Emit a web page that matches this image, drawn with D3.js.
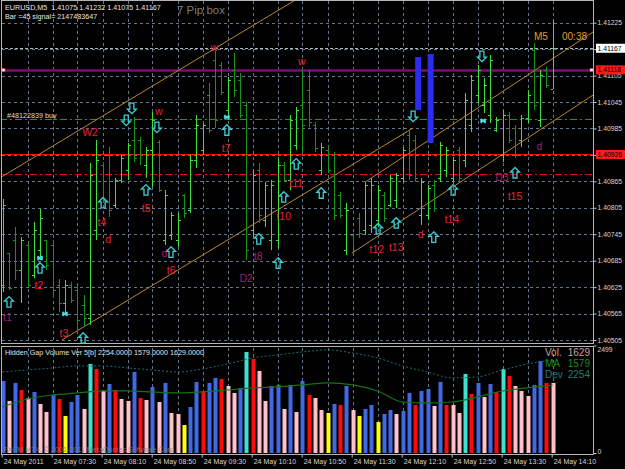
<!DOCTYPE html>
<html>
<head>
<meta charset="utf-8">
<script src="https://d3js.org/d3.v7.min.js"></script>
<style>
    body { margin: 0; background: #000; }
    svg { display: block; font-family: "Liberation Sans", Arial, sans-serif; }
</style>
</head>
<body>
<div id="chart"></div>
<script>

// EURUSD M5, 24 May 2011 06:50 - 14:10, one entry per bar
const openP = [1.40630,1.40702,1.40732,1.40664,1.40720,1.40652,1.40709,1.40732,1.40720,1.40630,
    1.40589,1.40630,1.40618,1.40584,1.40555,1.40754,1.40902,1.40925,1.40811,1.40868,
    1.40891,1.40959,1.40959,1.40902,1.40936,1.40954,1.40732,1.40743,1.40732,1.40834,
    1.40800,1.40913,1.40936,1.41061,1.41140,1.41129,1.41027,1.41118,1.41095,1.41038,
    1.40754,1.40891,1.40777,1.40732,1.40732,1.40902,1.40868,1.40947,1.41038,1.41072,
    1.40993,1.40891,1.40936,1.40925,1.40834,1.40709,1.40743,1.40782,1.40754,1.40766,
    1.40777,1.40834,1.40811,1.40822,1.40872,1.40970,1.40959,1.40788,1.40788,1.40857,
    1.40872,1.40891,1.40872,1.40936,1.40913,1.40993,1.41061,1.41038,1.41015,1.40981,
    1.40925,1.41015,1.40986,1.40959,1.41009,1.41163,1.41004,1.41118,1.41075];
const highP = [1.40825,1.40702,1.40761,1.40739,1.40725,1.40773,1.40802,1.40732,1.40732,1.40643,
    1.40641,1.40636,1.40630,1.40607,1.40906,1.40959,1.40909,1.40943,1.40872,1.40925,
    1.40952,1.41011,1.40966,1.40943,1.41022,1.40959,1.40845,1.40795,1.40793,1.40836,
    1.40925,1.41015,1.40997,1.41088,1.41168,1.41136,1.41102,1.41156,1.41111,1.41045,
    1.40891,1.40906,1.40863,1.40868,1.40920,1.40909,1.41015,1.41034,1.41118,1.41118,
    1.41000,1.40952,1.40943,1.40931,1.40841,1.40816,1.40748,1.40793,1.40863,1.40872,
    1.40857,1.40841,1.40879,1.40884,1.40943,1.40981,1.40970,1.40872,1.40857,1.40868,
    1.40954,1.40943,1.40920,1.40943,1.41065,1.41106,1.41129,1.41099,1.41152,1.41011,
    1.41027,1.41022,1.40993,1.41015,1.41072,1.41179,1.41118,1.41124,1.41232];
const lowP = [1.40614,1.40618,1.40641,1.40589,1.40625,1.40645,1.40686,1.40664,1.40600,1.40568,
    1.40566,1.40589,1.40521,1.40534,1.40539,1.40732,1.40816,1.40784,1.40804,1.40861,
    1.40868,1.40909,1.40902,1.40872,1.40852,1.40841,1.40720,1.40732,1.40716,1.40782,
    1.40793,1.40895,1.40925,1.40975,1.40986,1.41061,1.41015,1.41056,1.41009,1.40686,
    1.40739,1.40770,1.40761,1.40709,1.40714,1.40863,1.40845,1.40936,1.40929,1.40988,
    1.40931,1.40879,1.40884,1.40777,1.40782,1.40698,1.40702,1.40736,1.40743,1.40748,
    1.40761,1.40773,1.40807,1.40804,1.40863,1.40868,1.40863,1.40766,1.40777,1.40795,
    1.40863,1.40875,1.40863,1.40861,1.40897,1.40977,1.41043,1.41020,1.40997,1.40977,
    1.40909,1.40952,1.40918,1.40943,1.40997,1.41027,1.40988,1.41077,1.41075];
const closeP = [1.40811,1.40623,1.40664,1.40732,1.40630,1.40754,1.40782,1.40675,1.40618,1.40589,
    1.40630,1.40595,1.40550,1.40555,1.40879,1.40913,1.40822,1.40800,1.40868,1.40918,
    1.40947,1.40918,1.40925,1.40936,1.41004,1.40845,1.40834,1.40788,1.40777,1.40793,
    1.40913,1.40993,1.40993,1.40981,1.41004,1.41068,1.41095,1.41072,1.41015,1.40709,
    1.40879,1.40788,1.40857,1.40857,1.40902,1.40868,1.41004,1.41027,1.40993,1.41000,
    1.40941,1.40943,1.40891,1.40788,1.40788,1.40800,1.40709,1.40748,1.40857,1.40857,
    1.40845,1.40782,1.40872,1.40879,1.40936,1.40879,1.40872,1.40863,1.40850,1.40804,
    1.40947,1.40936,1.40913,1.40872,1.41049,1.41095,1.41118,1.41084,1.41140,1.41004,
    1.41015,1.40959,1.40925,1.41009,1.41061,1.41038,1.41106,1.41084,1.41167];

// Hidden Gap Volume: volume and bar class per bar
const volume = [1675,1210,1628,1465,1279,1419,1140,954,1349,1256,
    861,1186,1349,1023,2070,1954,1442,1605,1465,1256,
    1210,1884,1279,1233,1535,1186,1628,930,907,651,
    1070,1652,1442,1628,1745,1721,1558,1396,1512,2349,
    2186,1907,1210,1558,1582,1023,1582,954,1675,1349,
    1279,1000,930,1140,1117,1558,1000,861,1023,1117,
    721,907,1000,907,977,1396,1117,1442,1489,1093,
    1652,1117,1117,930,1838,1372,1628,1303,1605,1419,
    1954,1791,1558,1442,1326,1582,2140,1628,1629];
const volClass = ["B","P","B","R","P","B","P","P","B","R",
    "Y","B","B","P","T","R","P","B","R","P",
    "P","B","R","P","B","P","B","P","P","Y",
    "B","B","R","B","B","R","P","P","B","T",
    "R","P","P","B","B","P","B","P","B","R",
    "P","P","Y","B","R","B","P","Y","B","B",
    "Y","B","B","P","B","B","R","B","B","P",
    "B","R","P","P","T","R","B","P","B","R",
    "T","R","P","P","P","B","B","R","P"];
// MA and deviation lines, read every 4th bar
const lineBars = [0,4,8,12,16,20,24,28,32,36,40,44,48,52,56,60,64,68,72,76,80,84,88];
const maVals = [1070,1256,1349,1396,1442,1442,1419,1396,1419,1465,1512,1535,1582,1628,1582,1442,1186,1163,1186,1303,1442,1512,1579];
const devVals = [1884,1931,1977,2024,2024,1977,1931,1884,1954,2070,2210,2280,2349,2396,2326,2210,2024,1884,1745,1768,1931,2070,2163];

// axes
const priceTicks = [1.41225,1.41165,1.41105,1.41045,1.40985,1.40925,1.40865,1.40805,1.40745,1.40685,1.40625,1.40565,1.40505];
const timeTickBars = [0,8,16,24,32,40,48,56,64,72,80,88];
const timeTickLabels = ["24 May 2011","24 May 07:30","24 May 08:10","24 May 08:50","24 May 09:30","24 May 10:10",
    "24 May 10:50","24 May 11:30","24 May 12:10","24 May 12:50","24 May 13:30","24 May 14:10"];

// horizontal levels
const levelPrice = [1.41167, 1.41118, 1.41006, 1.40926, 1.40881];
const levelKind = ["bid", "hline", "order", "line", "stop"];

// trend channel lines [bar, price]
const chanFrom = [[-0.4,1.40873],[9.52,1.40505],[58.0,1.40863],[55.9,1.40702]];
const chanTo = [[46.8,1.41276],[65.68,1.40986],[94.5,1.41204],[94.5,1.41061]];

// blue boxes
const boxBar = [66.5, 68.5];
const boxTop = [1.41147, 1.41154];
const boxBottom = [1.41027, 1.40952];

// signal arrows and crosses
const upBar = [1.04,6.0,12.9,16.1,22.96,26.96,35.9,41.0,44.1,45.0,47.0,51.0,60.1,63.0,69.0,72.1,82.0];
const upPrice = [1.40591,1.40668,1.40509,1.40816,1.40845,1.40704,1.40981,1.40734,1.40679,1.40829,1.40904,1.40838,1.40757,1.40770,1.40738,1.40845,1.40884];
const downBar = [19.8,20.7,24.7,65.7,76.7];
const downPrice = [1.41004,1.41031,1.40988,1.41013,1.41149];
const crossBar = [6.0,10.0,35.9,76.9];
const crossPrice = [1.40691,1.40564,1.41011,1.41002];

// wave labels
const labelText = ["t1","t2","t3","t4","d","t5","d","t6","W2","w","w","t7","t8","D2",
    "w","t11","t10","t12","t13","d","t14","D3","t15","d"];
const labelBar = [0.8,5.84,9.84,15.9,16.9,23.0,25.9,27.0,14.0,25.0,33.9,35.8,40.9,39.0,
    47.9,47.0,45.0,59.9,63.0,66.9,71.9,79.9,82.0,85.9];
const labelPrice = [1.40557,1.40630,1.40521,1.40773,1.40734,1.40804,1.40702,1.40664,1.40977,1.41025,1.41170,1.40941,1.40695,1.40645,
    1.41138,1.40861,1.40786,1.40711,1.40716,1.40745,1.40779,1.40875,1.40832,1.40945];
const labelGroup = [2,1,1,1,1,1,2,1,1,1,1,1,2,2,
    1,1,1,1,1,1,1,2,1,2];


class MtChart {
    constructor(parentElement) {
        this.parentElement = parentElement;
        this.initVis();
    }

    initVis() {
        let vis = this;
        vis.width = 625;
        vis.height = 469;
        vis.axisX = 593.5;

        vis.svg = d3.select("#" + vis.parentElement).append("svg")
            .attr("width", vis.width)
            .attr("height", vis.height)
            .style("background", "#000");

        // scales
        vis.x = d3.scaleLinear().domain([0, 88]).range([2.5, 552.5]);
        vis.y = d3.scaleLinear().domain([1.40505, 1.41225]).range([340, 22.7]);
        vis.yv = d3.scaleLinear().domain([0, 2499]).range([453, 345.5]);

        vis.svg.append("clipPath").attr("id", "mainClip")
            .append("rect").attr("x", 2).attr("y", 1).attr("width", 591).attr("height", 342);
        vis.svg.append("clipPath").attr("id", "volClip")
            .append("rect").attr("x", 2).attr("y", 347).attr("width", 591).attr("height", 107);

        // grid
        let grid = vis.svg.append("g").attr("class", "grid")
            .attr("stroke", "#66768a").attr("stroke-dasharray", "3,3")
            .attr("shape-rendering", "crispEdges");
        let vBars = d3.range(4, 92, 4);
        grid.selectAll(".vg1").data(vBars).enter().append("line")
            .attr("x1", d => Math.round(vis.x(d)) + 0.5).attr("x2", d => Math.round(vis.x(d)) + 0.5)
            .attr("y1", 1).attr("y2", 343);
        grid.selectAll(".vg2").data(vBars).enter().append("line")
            .attr("x1", d => Math.round(vis.x(d)) + 0.5).attr("x2", d => Math.round(vis.x(d)) + 0.5)
            .attr("y1", 348).attr("y2", 454);
        grid.selectAll(".hg").data(priceTicks).enter().append("line")
            .attr("x1", 2).attr("x2", vis.axisX)
            .attr("y1", d => Math.round(vis.y(d)) + 0.5).attr("y2", d => Math.round(vis.y(d)) + 0.5);

        vis.main = vis.svg.append("g").attr("clip-path", "url(#mainClip)");
        vis.drawPrice();
        vis.drawVolume();
        vis.drawFrame();
    }

    drawPrice() {
        let vis = this;
        let g = vis.main;

        // horizontal levels
        let levelStyle = {
            bid: {stroke: "#b4b4b4", dash: "3,2", w: 1},
            hline: {stroke: "#7c0c78", dash: null, w: 2.4},
            order: {stroke: "#10a010", dash: "7,3,2,3", w: 1},
            line: {stroke: "#ff1010", dash: null, w: 1},
            stop: {stroke: "#e01010", dash: "7,3,2,3", w: 1}
        };
        levelPrice.forEach((p, i) => {
            let s = levelStyle[levelKind[i]];
            g.append("line")
                .attr("x1", 0).attr("x2", vis.axisX)
                .attr("y1", Math.round(vis.y(p)) + 0.5).attr("y2", Math.round(vis.y(p)) + 0.5)
                .attr("stroke", s.stroke).attr("stroke-width", s.w)
                .attr("stroke-dasharray", s.dash);
        });
        let hy = Math.round(vis.y(levelPrice[1]));
        [2, 590].forEach(px => {
            vis.svg.append("rect").attr("x", px).attr("y", hy - 1.5).attr("width", 3).attr("height", 3)
                .attr("fill", "#fff").attr("stroke", "#e03030").attr("stroke-width", 0.6);
        });

        // channel lines
        g.selectAll(".chan").data(chanFrom).enter().append("line")
            .attr("x1", d => vis.x(d[0])).attr("y1", d => vis.y(d[1]))
            .attr("x2", (d, i) => vis.x(chanTo[i][0])).attr("y2", (d, i) => vis.y(chanTo[i][1]))
            .attr("stroke", "#b8862e").attr("stroke-width", 1);

        // bars
        let bars = d3.range(openP.length);
        let col = i => closeP[i] >= openP[i] ? "#3ee03e" : "#179417";
        let bg = g.append("g").attr("shape-rendering", "crispEdges");
        bg.selectAll(".hl").data(bars).enter().append("line")
            .attr("x1", i => Math.round(vis.x(i)) + 0.5).attr("x2", i => Math.round(vis.x(i)) + 0.5)
            .attr("y1", i => vis.y(highP[i])).attr("y2", i => vis.y(lowP[i]))
            .attr("stroke", col);
        bg.selectAll(".op").data(bars).enter().append("line")
            .attr("x1", i => Math.round(vis.x(i)) - 2).attr("x2", i => Math.round(vis.x(i)))
            .attr("y1", i => Math.round(vis.y(openP[i])) + 0.5).attr("y2", i => Math.round(vis.y(openP[i])) + 0.5)
            .attr("stroke", col);
        bg.selectAll(".cl").data(bars).enter().append("line")
            .attr("x1", i => Math.round(vis.x(i)) + 1).attr("x2", i => Math.round(vis.x(i)) + 3)
            .attr("y1", i => Math.round(vis.y(closeP[i])) + 0.5).attr("y2", i => Math.round(vis.y(closeP[i])) + 0.5)
            .attr("stroke", col);

        // blue boxes
        g.selectAll(".box").data(boxBar).enter().append("rect")
            .attr("x", d => vis.x(d) - 3).attr("width", 6)
            .attr("y", (d, i) => vis.y(boxTop[i]))
            .attr("height", (d, i) => vis.y(boxBottom[i]) - vis.y(boxTop[i]))
            .attr("fill", "#2a2cf0");

        // arrows
        let upPath = "M0,-5.5L4.5,-1L2,-1L2,5L-2,5L-2,-1L-4.5,-1Z";
        let downPath = "M0,5.5L4.5,1L2,1L2,-5L-2,-5L-2,1L-4.5,1Z";
        g.selectAll(".up").data(upBar).enter().append("path")
            .attr("d", upPath)
            .attr("transform", (d, i) => "translate(" + vis.x(d) + "," + vis.y(upPrice[i]) + ")")
            .attr("fill", "none").attr("stroke", "#3ccfd6").attr("stroke-width", 1.3);
        g.selectAll(".down").data(downBar).enter().append("path")
            .attr("d", downPath)
            .attr("transform", (d, i) => "translate(" + vis.x(d) + "," + vis.y(downPrice[i]) + ")")
            .attr("fill", "none").attr("stroke", "#3ccfd6").attr("stroke-width", 1.3);
        g.selectAll(".cross").data(crossBar).enter().append("path")
            .attr("d", "M-2.5,-2L2.5,2M-2.5,2L2.5,-2M-3,0L3,0")
            .attr("transform", (d, i) => "translate(" + vis.x(d) + "," + vis.y(crossPrice[i]) + ")")
            .attr("stroke", "#4fd8e8").attr("stroke-width", 1.6);

        // wave labels
        g.selectAll(".lbl").data(labelText).enter().append("text")
            .attr("x", (d, i) => vis.x(labelBar[i]))
            .attr("y", (d, i) => vis.y(labelPrice[i]))
            .attr("text-anchor", "middle").attr("dominant-baseline", "central")
            .attr("font-size", 10.5)
            .attr("fill", (d, i) => labelGroup[i] === 1 ? "#e8203a" : "#a21f6e")
            .text(d => d);

        // texts
        vis.svg.append("text").attr("x", 5).attr("y", 10).attr("font-size", 7.2).attr("fill", "#e6e6e6")
            .attr("xml:space", "preserve")
            .text("EURUSD,M5  1.41075 1.41232 1.41075 1.41167");
        vis.svg.append("text").attr("x", 5).attr("y", 18.5).attr("font-size", 7.2).attr("fill", "#e6e6e6")
            .text("Bar =45 signal= 2147483647");
        vis.svg.append("text").attr("x", 177).attr("y", 14).attr("font-size", 11.5).attr("fill", "#7c7c7c")
            .text("7 Pip box");
        vis.svg.append("text").attr("x", 7).attr("y", 117.5).attr("font-size", 7.2).attr("fill", "#dcdcdc")
            .text("#48122839 buy");
        vis.svg.append("text").attr("x", 534).attr("y", 40).attr("font-size", 10).attr("fill", "#e89a2a")
            .text("M5");
        vis.svg.append("text").attr("x", 562).attr("y", 40).attr("font-size", 10).attr("fill", "#e89a2a")
            .text("00:38");

        // price axis
        let yAxis = d3.axisRight(vis.y).tickValues(priceTicks).tickSize(3)
            .tickFormat(d3.format(".5f"));
        let ya = vis.svg.append("g").attr("class", "y-axis")
            .attr("transform", "translate(" + vis.axisX + ",0)")
            .call(yAxis);
        ya.select(".domain").remove();
        ya.selectAll("line").attr("stroke", "#c8c8c8");
        ya.selectAll("text").attr("fill", "#d8d8d8").attr("font-size", 6.8)
            .attr("font-family", "Liberation Sans, Arial, sans-serif").attr("x", 4);

        // price boxes
        let boxes = [[levelPrice[0], "#ffffff"], [levelPrice[1], "#ff1a1a"], [levelPrice[3], "#ff1a1a"]];
        boxes.forEach(b => {
            let by = vis.y(b[0]);
            vis.svg.append("rect").attr("x", vis.axisX + 2.5).attr("y", by - 4.5)
                .attr("width", 30).attr("height", 9).attr("fill", b[1]);
            vis.svg.append("text").attr("x", vis.axisX + 4).attr("y", by)
                .attr("dominant-baseline", "central").attr("font-size", 6.8).attr("fill", "#000")
                .text(d3.format(".5f")(b[0]));
        });
    }

    drawVolume() {
        let vis = this;
        let g = vis.svg.append("g").attr("clip-path", "url(#volClip)");
        let colors = {B: "#4169e1", R: "#ff0a0a", P: "#ffc0cb", Y: "#ffff00", T: "#40e0d0"};

        g.selectAll(".vb").data(volume).enter().append("rect")
            .attr("x", (d, i) => Math.round(vis.x(i)) - 1.5)
            .attr("width", 4)
            .attr("y", d => vis.yv(d))
            .attr("height", d => vis.yv(0) - vis.yv(d))
            .attr("fill", (d, i) => colors[volClass[i]]);

        let line = d3.line().x(d => vis.x(d[0])).y(d => vis.yv(d[1])).curve(d3.curveMonotoneX);
        g.append("path").datum(lineBars.map((b, i) => [b, devVals[i]]))
            .attr("d", line).attr("fill", "none")
            .attr("stroke", "#1f6b70").attr("stroke-width", 1).attr("stroke-dasharray", "2,2");
        g.append("path").datum(lineBars.map((b, i) => [b, maVals[i]]))
            .attr("d", line).attr("fill", "none")
            .attr("stroke", "#147214").attr("stroke-width", 1.2);

        vis.svg.append("text").attr("x", 5).attr("y", 355).attr("font-size", 7.2).attr("fill", "#e0e0e0")
            .text("Hidden Gap Volume Ver 5[b] 2254.0000 1579.0000 1629.0000");
        vis.svg.append("text").attr("x", 3).attr("y", 452).attr("font-size", 7.2).attr("fill", "#808080")
            .attr("opacity", 0.85)
            .text("FXCM MT4, \u00a9 2001-2011 MetaQuotes Software Corp.");

        let legend = [["Vol.", "1629", "#c4a0a0"], ["MA", "1579", "#1f8a1f"], ["Dev", "2254", "#2a7878"]];
        legend.forEach((l, i) => {
            vis.svg.append("text").attr("x", 545).attr("y", 355.5 + i * 11).attr("font-size", 10).attr("fill", l[2]).text(l[0]);
            vis.svg.append("text").attr("x", 590).attr("y", 355.5 + i * 11).attr("font-size", 10).attr("fill", l[2])
                .attr("text-anchor", "end").text(l[1]);
        });

        let vAxis = d3.axisRight(vis.yv).tickValues([2499, 0]).tickSize(3).tickFormat(d3.format("d"));
        let va = vis.svg.append("g").attr("transform", "translate(" + vis.axisX + ",0)").call(vAxis);
        va.select(".domain").remove();
        va.selectAll("line").attr("stroke", "#c8c8c8");
        va.selectAll("text").attr("fill", "#d8d8d8").attr("font-size", 6.8).attr("x", 4)
            .attr("font-family", "Liberation Sans, Arial, sans-serif")
            .attr("dy", d => d ? "0.95em" : "0.0em");

        // time axis
        let xAxis = d3.axisBottom(vis.x).tickValues(timeTickBars).tickSize(3)
            .tickFormat((d, i) => timeTickLabels[i]);
        let xa = vis.svg.append("g").attr("transform", "translate(-0.8,454.5)").call(xAxis);
        xa.select(".domain").remove();
        xa.selectAll("line").attr("stroke", "#c8c8c8");
        xa.selectAll("text").attr("fill", "#d8d8d8").attr("font-size", 7)
            .attr("font-family", "Liberation Sans, Arial, sans-serif")
            .attr("text-anchor", "start").attr("x", 1.5).attr("y", 5).attr("dy", "0.71em");
    }

    drawFrame() {
        let vis = this;
        let f = vis.svg.append("g").attr("stroke", "#b4b4b4").attr("shape-rendering", "crispEdges").attr("fill", "none");
        f.append("rect").attr("x", 1.5).attr("y", 0.5).attr("width", vis.axisX - 1.5).attr("height", 343);
        f.append("rect").attr("x", 1.5).attr("y", 346.5).attr("width", vis.axisX - 1.5).attr("height", 108);
    }
}

new MtChart("chart");
</script>
</body>
</html>
